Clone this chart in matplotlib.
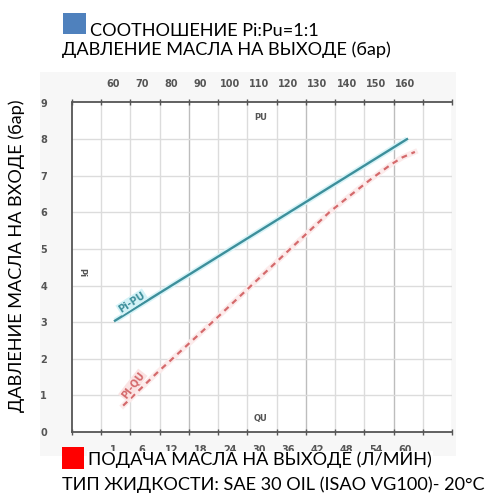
import matplotlib
matplotlib.use("Agg")
import matplotlib.pyplot as plt
from matplotlib.patches import Rectangle
import numpy as np

# ---- data ----
pu_labels = ["60", "70", "80", "90", "100", "110", "120", "130", "140", "150", "160"]
pu_pos = [60, 70, 80, 90, 100, 110, 120, 130, 140, 150, 160]
qu_labels = ["1", "6", "12", "18", "24", "30", "36", "42", "48", "54", "60"]
y_ticks = [0, 1, 2, 3, 4, 5, 6, 7, 8, 9]

pipu_x = [60.7, 160.6]
pipu_y = [3.04, 8.0]

piqu_x = [63.5, 75.0, 94.0, 114.0, 126.0, 134.0, 141.0, 148.0, 155.0, 159.0, 163.3]
piqu_y = [0.72, 1.61, 3.0, 4.5, 5.4, 6.0, 6.45, 6.89, 7.3, 7.5, 7.65]

W, H = 490, 498
fig = plt.figure(figsize=(W / 100, H / 100), dpi=100)
fig.patch.set_facecolor("white")

def fx(px):
    return px / W

def fy(py):
    return 1 - py / H

# faint panel of the embedded picture
fig.patches.append(Rectangle((fx(40), fy(456)), fx(456) - fx(40), fy(72) - fy(456),
                             transform=fig.transFigure, facecolor="#f7f7f7",
                             edgecolor="none", zorder=-5))

ax = fig.add_axes([fx(72), fy(432), fx(452) - fx(72), fy(102.5) - fy(432)])
ax.set_zorder(1)
ax.set_facecolor("white")
ax.set_xlim(46, 176)
ax.set_ylim(0, 9)

# grid
grid_x = np.arange(56, 177, 10)
dark_x = [86, 126, 156]
for gx in grid_x:
    ax.axvline(gx, color="#bdbdbd" if gx in dark_x else "#dcdcdc", lw=1.0, zorder=1)
for gy in range(1, 9):
    ax.axhline(gy, color="#dcdcdc", lw=1.0, zorder=1)

for s in ["top", "bottom", "left"]:
    ax.spines[s].set_color("#555555")
    ax.spines[s].set_linewidth(1.3)
ax.spines["right"].set_visible(False)

# major ticks at grid, minor for labels
ax.set_xticks(np.arange(46, 177, 10))
ax.set_xticklabels([])
ax.tick_params(axis="x", which="major", direction="inout", length=5, width=1,
               color="#555555", top=True, bottom=True)
ax.set_xticks(pu_pos, qu_labels, minor=True)
ax.tick_params(axis="x", which="minor", length=0, pad=9, labelsize=7,
               labelcolor="#555555")
for lab in ax.get_xticklabels(minor=True):
    lab.set_fontweight("bold")

sec = ax.secondary_xaxis("top")
sec.set_xticks(pu_pos, pu_labels)
sec.tick_params(length=0, pad=10, labelsize=7, labelcolor="#555555")
sec.spines["top"].set_visible(False)
for lab in sec.get_xticklabels():
    lab.set_fontweight("bold")

ax.set_yticks(y_ticks)
ax.tick_params(axis="y", length=0, pad=18, labelsize=7, labelcolor="#555555")
for lab in ax.get_yticklabels():
    lab.set_fontweight("bold")

# lines with soft halo
ax.plot(pipu_x, pipu_y, color="#d8f4f8", lw=4, solid_capstyle="butt", zorder=3)
ax.plot(pipu_x, pipu_y, color="#3d8f9b", lw=1.7, zorder=4)
ax.plot(piqu_x, piqu_y, color="#fcebeb", lw=4, zorder=3)
ax.plot(piqu_x, piqu_y, color="#d46a6c", lw=1.6, ls=(0, (2.6, 2.2)), zorder=4)

ax.text(66.5, 3.55, "Pi-PU", color="#3d8f9b", fontsize=7, fontweight="bold",
        rotation=33, ha="center", va="center", zorder=5,
        bbox=dict(boxstyle="square,pad=0.1", fc="#d3f2f7", ec="none"))
ax.text(66.8, 1.28, "PI-QU", color="#d46a6c", fontsize=7, fontweight="bold",
        rotation=52, ha="center", va="center", zorder=5,
        bbox=dict(boxstyle="square,pad=0.1", fc="#fbe3e3", ec="none"))

ax.text(110.5, 8.6, "PU", color="#555555", fontsize=6, fontweight="bold",
        ha="center", va="center")
ax.text(110.5, 0.38, "QU", color="#555555", fontsize=6, fontweight="bold",
        ha="center", va="center")
ax.text(49.5, 4.35, "Pi", color="#555555", fontsize=6, fontweight="bold",
        rotation=270, ha="center", va="center")

# surrounding captions
font = "Lato"
fs = 13.1
fig.patches.append(Rectangle((fx(63), fy(34)), fx(23), fy(13) - fy(34),
                             transform=fig.transFigure, facecolor="#4f81bd",
                             edgecolor="none"))
fig.text(fx(90), fy(31), "СООТНОШЕНИЕ Pi:Pu=1:1", fontsize=fs, family=font,
         ha="left", va="center", color="black")
fig.text(fx(62), fy(50), "ДАВЛЕНИЕ МАСЛА НА ВЫХОДЕ (бар)", fontsize=fs, family=font,
         ha="left", va="center", color="black")
fig.text(fx(17), fy(256), "ДАВЛЕНИЕ МАСЛА НА ВХОДЕ (бар)", fontsize=fs, family=font,
         ha="center", va="center", rotation=90, color="black")
fig.patches.append(Rectangle((fx(62), fy(469)), fx(22), fy(447) - fy(469),
                             transform=fig.transFigure, facecolor="#ff0000",
                             edgecolor="none", zorder=5))
fig.text(fx(88), fy(460), "ПОДАЧА МАСЛА НА ВЫХОДЕ (Л/МИН)", fontsize=fs, family=font,
         ha="left", va="center", color="black", zorder=5,
         bbox=dict(boxstyle="square,pad=0.05", fc="white", ec="none"))
fig.text(fx(62), fy(485), "ТИП ЖИДКОСТИ: SAE 30 OIL (ISAO VG100)- 20°C", fontsize=fs,
         family=font, ha="left", va="center", color="black")

fig.savefig("out.png", dpi=100, facecolor="white")
